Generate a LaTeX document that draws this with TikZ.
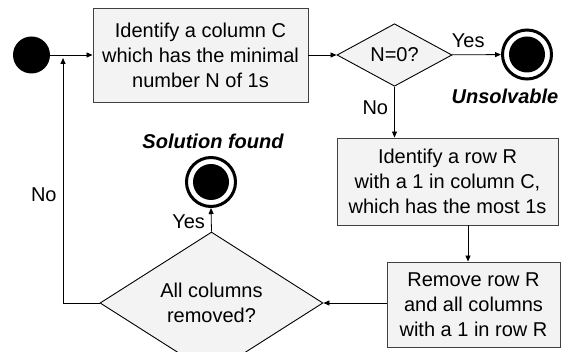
\documentclass[tikz,border=0pt]{standalone}
\usepackage{fontspec}
\setmainfont{Liberation Sans}
\usetikzlibrary{shapes.geometric,arrows.meta}
\definecolor{boxfill}{HTML}{F3F3F3}
\definecolor{boxline}{HTML}{404040}
\begin{document}
\begin{tikzpicture}[x=1pt,y=-1pt,
  every node/.style={font=\fontsize{20}{25}\selectfont},
  stepbox/.style={rectangle,draw=boxline,fill=boxfill,line width=0.9pt,align=center,inner sep=0pt},
  decision/.style={diamond,draw=black,fill=boxfill,line width=0.9pt,align=center,inner sep=0pt},
  startdot/.style={circle,fill=black,inner sep=0pt,minimum size=37pt},
  enddot/.style={circle,draw=black,line width=3pt,inner sep=0pt,minimum size=49pt,
    path picture={\fill[black] (path picture bounding box.center) circle (18pt);}},
  arr/.style={-{Triangle[length=6pt,width=5pt]},line width=0.8pt,draw=black},
  lbl/.style={inner sep=0pt},
  title/.style={inner sep=0pt,font=\fontsize{20}{25}\selectfont\bfseries\itshape}]
\useasboundingbox (0,0) rectangle (569,352);

% nodes
\node[startdot] (start) at (31.5,55) {};
\node[stepbox,minimum width=215pt,minimum height=94pt] (find) at (200.5,55)
  {Identify a column C\\which has the minimal\\number N of 1s};
\node[decision,minimum width=115pt,minimum height=56pt] (zero) at (394.5,55) {N=0?};
\node[enddot] (fail) at (527,54.5) {};
\node[title] (failtxt) at (505,96) {Unsolvable};
\node[stepbox,minimum width=221pt,minimum height=87pt] (row) at (447.5,181.5)
  {Identify a row R\\with a 1 in column C,\\which has the most 1s};
\node[stepbox,minimum width=173pt,minimum height=85pt] (remove) at (473.5,304.5)
  {Remove row R\\and all columns\\with a 1 in row R};
\node[decision,minimum width=223pt,minimum height=100pt] (done) at (211.5,303)
  {All columns\\removed?};
\node[enddot] (found) at (211,182) {};
\node[title] (foundtxt) at (213,141) {Solution found};
\coordinate (loop) at (63,58);

% connectors
\draw[arr] (start) -- (find);
\draw[arr] (find) -- (zero);
\draw[arr] (zero) -- node[lbl,above=7pt,pos=0.33] {Yes} (fail);
\draw[arr] (zero.south) -- node[lbl,left=6pt,pos=0.42] {No} (zero.south |- row.north);
\draw[arr] ([xshift=20.5pt]row.south) -- ([xshift=20.5pt]row.south |- remove.north);
\draw[arr] (remove.west |- done.east) -- (done.east);
\draw[arr] (done.north) -- node[lbl,left=6pt,pos=0.42] {Yes} (found.south);
\draw[arr] (done.west) -| node[lbl,pos=0.72,left=6pt] {No} (loop);
\end{tikzpicture}
\end{document}
